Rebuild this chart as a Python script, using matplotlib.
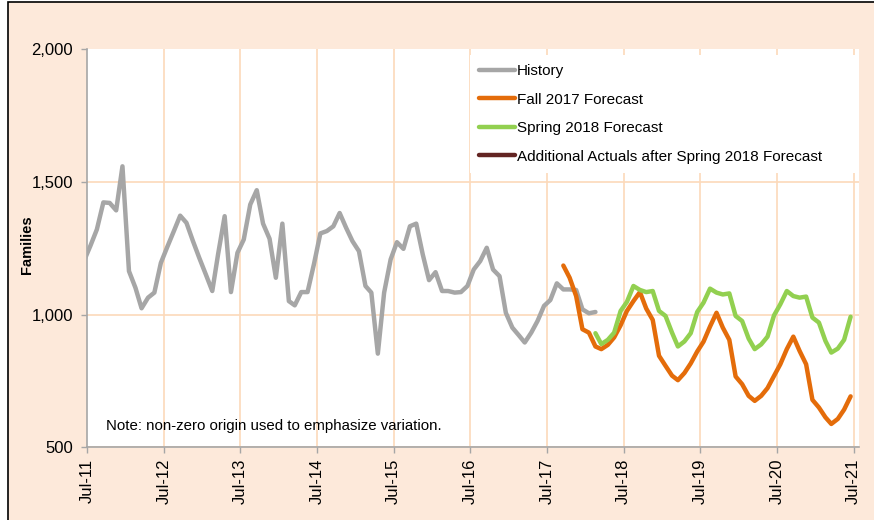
import pandas as pd
import matplotlib
matplotlib.use('Agg')
import matplotlib.pyplot as plt
import matplotlib.dates as mdates
from matplotlib.patches import Rectangle
from matplotlib.ticker import FuncFormatter

plt.rcParams['font.family'] = ['Liberation Sans', 'DejaVu Sans']

# data (monthly values, first month of each series below)
history_start = '2011-06'
history = [1203, 1259, 1321, 1423, 1421, 1393, 1559, 1164, 1101, 1024, 1064, 1083,
           1195, 1254, 1313, 1373, 1346, 1277, 1214, 1152, 1089, 1229, 1371, 1085,
           1233, 1283, 1415, 1469, 1343, 1286, 1139, 1343, 1051, 1035, 1085, 1085,
           1192, 1306, 1315, 1333, 1383, 1327, 1277, 1239, 1108, 1083, 853, 1083,
           1208, 1273, 1248, 1333, 1343, 1227, 1130, 1160, 1089, 1089, 1083, 1085,
           1108, 1170, 1202, 1252, 1170, 1145, 1007, 951, 922, 895, 932, 976,
           1033, 1055, 1118, 1095, 1095, 1093, 1020, 1005, 1010]

fall_start = '2017-09'
fall_2017 = [1185, 1139, 1070, 945, 932, 880, 870, 886, 914, 960, 1014, 1051,
             1085, 1023, 980, 845, 807, 770, 753, 780, 816, 861, 898, 955,
             1007, 951, 905, 767, 738, 694, 675, 694, 723, 769, 813, 870,
             917, 863, 813, 679, 650, 613, 588, 607, 642, 692]

spring_start = '2018-02'
spring_2018 = [930, 889, 905, 932, 1014, 1048, 1108, 1093, 1085, 1089, 1014, 995,
               932, 880, 899, 930, 1010, 1045, 1098, 1083, 1076, 1080, 995, 976,
               910, 870, 888, 917, 997, 1039, 1089, 1070, 1064, 1068, 989, 970,
               901, 857, 872, 905, 992]

additional_actuals = []

series = [
    ('History', history_start, history, '#A6A6A6'),
    ('Fall 2017 Forecast', fall_start, fall_2017, '#E46C0A'),
    ('Spring 2018 Forecast', spring_start, spring_2018, '#92D050'),
    ('Additional Actuals after Spring 2018 Forecast', spring_start, additional_actuals, '#632523'),
]

peach = '#FDE9DA'
grid_col = '#FCD9BA'
axis_col = '#A6A6A6'


def month_dates(start, n):
    return pd.date_range(start + '-01', periods=n, freq='MS') + pd.Timedelta(days=16)


fig = plt.figure(figsize=(8.74, 5.2), dpi=100)
fig.patch.set_facecolor('white')
fig.patches.append(Rectangle((8 / 874, -0.05), 1.1, 1.05 - 1.5 / 520,
                             transform=fig.transFigure, facecolor=peach,
                             edgecolor='black', linewidth=1.2, zorder=-10))

ax = fig.add_axes([87 / 874, 1 - 447.3 / 520, 772 / 874, 398 / 520])
ax.set_facecolor('white')

for label, start, values, color in series:
    ax.plot(month_dates(start, len(values)), values, color=color, lw=3.2,
            label=label, solid_capstyle='round', solid_joinstyle='round', zorder=3)

ax.set_ylim(500, 2000)
ax.set_yticks([500, 1000, 1500, 2000])
ax.yaxis.set_major_formatter(FuncFormatter(lambda v, p: f'{v:,.0f}'))
ax.set_xlim(pd.Timestamp('2011-07-01'), pd.Timestamp('2021-07-27'))
ax.xaxis.set_major_locator(mdates.MonthLocator(bymonth=7, bymonthday=1))
ax.xaxis.set_major_formatter(mdates.DateFormatter('Jul-%y'))
plt.setp(ax.get_xticklabels(), rotation=90)

ax.grid(True, color=grid_col, lw=1.2, zorder=0)
ax.set_axisbelow(True)
ax.yaxis.get_gridlines()[-1].set_visible(False)
ax.xaxis.get_gridlines()[0].set_visible(False)

for side in ['top', 'right']:
    ax.spines[side].set_visible(False)
for side in ['left', 'bottom']:
    ax.spines[side].set_color(axis_col)
    ax.spines[side].set_linewidth(1.2)
ax.tick_params(axis='both', colors=axis_col, length=4, width=1, labelsize=12,
               labelcolor='black')
ax.tick_params(axis='y', pad=6)
ax.tick_params(axis='x', pad=4)

fig.text(27 / 874, 1 - 245 / 520, 'Families', rotation=90, fontsize=10.5,
         fontweight='bold', ha='center', va='center')

ax.text(0.0246, 0.0535, 'Note: non-zero origin used to emphasize variation.',
        transform=ax.transAxes, fontsize=10.8, va='center', ha='left')

leg = ax.legend(loc='upper left', bbox_to_anchor=(0.496, 0.70, 0.504, 0.286),
                mode='expand', frameon=True, fancybox=False, framealpha=1,
                facecolor='white', edgecolor='none', fontsize=11,
                handlelength=2.35, handletextpad=0.12, labelspacing=0.95,
                borderaxespad=0, borderpad=0.6)
leg.set_zorder(5)

fig.savefig('out.png', dpi=100, facecolor=fig.get_facecolor())
